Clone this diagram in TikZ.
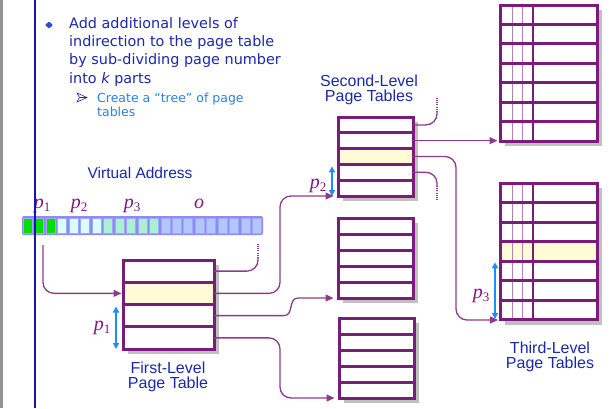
\documentclass[tikz,border=0pt]{standalone}
\usepackage{fontspec}
\setmainfont{Liberation Sans}
\newfontfamily\comicfont{DejaVu Sans}
\newfontfamily\timesfont{Liberation Serif}
\usetikzlibrary{arrows.meta,calc}
\definecolor{pur}{HTML}{7B1C7B}
\definecolor{conncol}{HTML}{8E3A8E}
\definecolor{shadowgray}{HTML}{C0C0C0}
\definecolor{hilite}{HTML}{FFFBD5}
\definecolor{dblue}{HTML}{1A2AA8}
\definecolor{lblue}{HTML}{2B80EA}
\definecolor{arrblue}{HTML}{1E8CFF}
\definecolor{vlinecol}{HTML}{1515B0}
\definecolor{barbg}{HTML}{8C8CF2}
\definecolor{cgreen}{HTML}{00E000}
\definecolor{ccyan}{HTML}{D8FFFF}
\definecolor{cmint}{HTML}{A8F2D2}
\definecolor{cblue}{HTML}{B0C8FF}
\definecolor{cedge}{HTML}{A4A4FF}
\definecolor{bulletcol}{HTML}{2A50D0}
% name, x, y(top), width, row height, rows, highlighted row, extra code
\newcommand{\ptable}[8]{%
  \fill[shadowgray] (#2+5,#3+5) rectangle (#2+#4+5,#3+#5*#6+5);
  \foreach \i in {1,...,#6} {
    \ifnum\i=#7 \def\rowfill{hilite}\else\def\rowfill{white}\fi
    \node[trow, fill=\rowfill, minimum width=#4pt, minimum height=#5pt,
      anchor=north west] (#1-\i) at (#2,#3+#5*\i-#5) {};
  }
  #8
  \foreach \i in {1,...,#6} {
    \draw[tborder] (#1-\i.north west) rectangle (#1-\i.south east);
  }
}
\newcommand{\plab}[2]{{\itshape #1}{\fontsize{13}{13}\selectfont\raisebox{-3.5pt}{#2}}}
\begin{document}
\begin{tikzpicture}[x=1pt,y=-1pt,
  trow/.style={rectangle, inner sep=0pt, outer sep=0pt, draw=none},
  tborder/.style={draw=pur, line width=3pt},
  conn/.style={draw=conncol, line width=1.3pt, rounded corners=11pt},
  arrowend/.style={-{Triangle[length=8pt,width=7pt]}},
  dotline/.style={draw=conncol, line width=1.3pt, dash pattern=on 1pt off 1.2pt},
  parr/.style={draw=arrblue, line width=1.4pt, {Triangle[length=6pt,width=6pt]}-{Triangle[length=6pt,width=6pt]}},
  plabel/.style={text=pur, inner sep=0pt, anchor=base, font=\timesfont\fontsize{20}{20}\selectfont},
  capt/.style={text=dblue, align=center, inner sep=0pt, font=\fontsize{16}{15.5}\selectfont},
  vcell/.style={rectangle, draw=cedge, line width=0.9pt, minimum width=9pt, minimum height=15pt, inner sep=0pt},
  thinv/.style={draw=pur!55, line width=0.8pt},
  thickv/.style={draw=pur, line width=1.8pt}
]
\useasboundingbox (0,0) rectangle (613,408);
\fill[white] (0,0) rectangle (613,408);
\fill[gray!85] (0,0) rectangle (2.7,408);

% bullet text
\fill[bulletcol, rounded corners=0.8pt] (45,25) -- (49,21.5) -- (53,25) -- (49,28.5) -- cycle;
\node[anchor=north west, align=left, inner sep=0pt, text=dblue,
  font=\comicfont\fontsize{14.4}{18.3}\selectfont] (maintext) at (69,17)
  {Add additional levels of\\indirection to the page table\\by sub-dividing page number\\into {\itshape k} parts};
\draw[dblue, line width=0.6pt, fill=white] (77,93) -- (87,97.5) -- (77,102) -- (79.5,97.5) -- cycle;
\draw[dblue, line width=0.6pt] (79.5,97.5) -- (87,97.5);
\node[anchor=north west, align=left, inner sep=0pt, text=lblue,
  font=\comicfont\fontsize{12.5}{14.5}\selectfont] (subtext) at (97,92.5)
  {Create a “tree” of page\\tables};

% virtual address
\node[capt, anchor=base, font=\fontsize{15.5}{15.5}\selectfont] (vacap) at (140,178) {Virtual Address};
\fill[barbg, rounded corners=1.5pt] (22,216) rectangle (263,235);
\foreach \i in {1,...,21} {
  \ifnum\i<4 \def\cf{cgreen}\else\ifnum\i<8 \def\cf{ccyan}\else\ifnum\i<13 \def\cf{cmint}\else\def\cf{cblue}\fi\fi\fi
  \node[vcell, fill=\cf] (c\i) at ({22+11.476*(\i-0.5)},225.5) {};
}
\node[plabel] (lp1) at (42,208) {\plab{p}{1}};
\node[plabel] (lp2) at (79,208) {\plab{p}{2}};
\node[plabel] (lp3) at (132,208) {\plab{p}{3}};
\node[plabel] (lo) at (199,208) {\itshape o};

% tables
\ptable{f}{123}{260}{91}{22.25}{4}{2}{}
\ptable{s1}{338}{117}{75}{15.8}{5}{3}{}
\ptable{s2}{338}{218}{75}{16}{5}{0}{}
\ptable{s3}{339}{318}{75}{16}{5}{0}{}
\ptable{t1}{500}{5}{97}{19.43}{7}{0}{%
  \draw[thinv] ($(t1-1.north west)+(12,0)$) -- ($(t1-7.south west)+(12,0)$);
  \draw[thinv] ($(t1-1.north west)+(22,0)$) -- ($(t1-7.south west)+(22,0)$);
  \draw[thickv] ($(t1-1.north west)+(33,0)$) -- ($(t1-7.south west)+(33,0)$);}
\ptable{t2}{500}{183}{97}{19.57}{7}{4}{%
  \draw[thinv] ($(t2-1.north west)+(12,0)$) -- ($(t2-7.south west)+(12,0)$);
  \draw[thinv] ($(t2-1.north west)+(22,0)$) -- ($(t2-7.south west)+(22,0)$);
  \draw[thickv] ($(t2-1.north west)+(33,0)$) -- ($(t2-7.south west)+(33,0)$);}

% captions
\node[capt, anchor=north] (fcap) at (168,361.5) {First-Level\\Page Table};
\node[capt, anchor=north] (scap) at (369,74.5) {Second-Level\\Page Tables};
\node[capt, anchor=north] (tcap) at (550,341.5) {Third-Level\\Page Tables};

% p arrows and labels
\draw[parr] ($(f-3.north west)+(-7,2)$) -- ($(f-4.south west)+(-7,0)$);
\node[plabel] (tp1) at (102,330) {\plab{p}{1}};
\draw[parr] ($(s1-4.north west)+(-6,2)$) -- ($(s1-5.south west)+(-6,0)$);
\node[plabel] (tp2) at (318,188) {\plab{p}{2}};
\draw[parr] ($(t2-5.north west)+(-5,1)$) -- ($(t2-7.south west)+(-5,-1)$);
\node[plabel] (tp3) at (481,298) {\plab{p}{3}};

% connectors from first level
\coordinate (vastart) at (43,245);
\coordinate (bendA) at (280,0);
\coordinate (sx) at (298,0);
\coordinate (d1) at (258,258);
\coordinate (d1t) at (258,243);
\draw[conn, arrowend, shorten >=1.5pt] (vastart) |- (f-2.west);
\draw[conn] (f-1.east) -| (d1);
\draw[dotline] (d1) -- (d1t);
\draw[conn, arrowend, shorten >=4.5pt] (f-2.east) -| (bendA |- s1-5.south west) -- (s1-5.south west);
\draw[conn, sharp corners, arrowend, shorten >=4.5pt] (f-3.east) -- ++(70,0)
  .. controls +(10,0) and +(-10,0) .. (s2-5.south west -| sx) -- (s2-5.south west);
\draw[conn, arrowend, shorten >=4.5pt] (f-4.east) -| (bendA |- s3-5.south west) -- (s3-5.south west);

% connectors from second level
\coordinate (bendB) at (456,0);
\coordinate (d2) at (437,112);
\coordinate (d2t) at (437,98);
\coordinate (d3) at (437,186);
\coordinate (d3b) at (437,200);
\draw[conn] (s1-1.east) -| (d2);
\draw[dotline] (d2) -- (d2t);
\draw[conn, arrowend, shorten >=2.5pt] (s1-2.east) -- (s1-2.east -| t1-7.south west);
\draw[conn, arrowend, shorten >=2pt] (s1-3.east) -| (bendB |- t2-7.south west) -- (t2-7.south west);
\draw[conn] (s1-4.east) -| (d3);
\draw[dotline] (d3) -- (d3b);

% blue margin line
\draw[vlinecol, line width=2pt] (35,0) -- (35,408);
\end{tikzpicture}
\end{document}
